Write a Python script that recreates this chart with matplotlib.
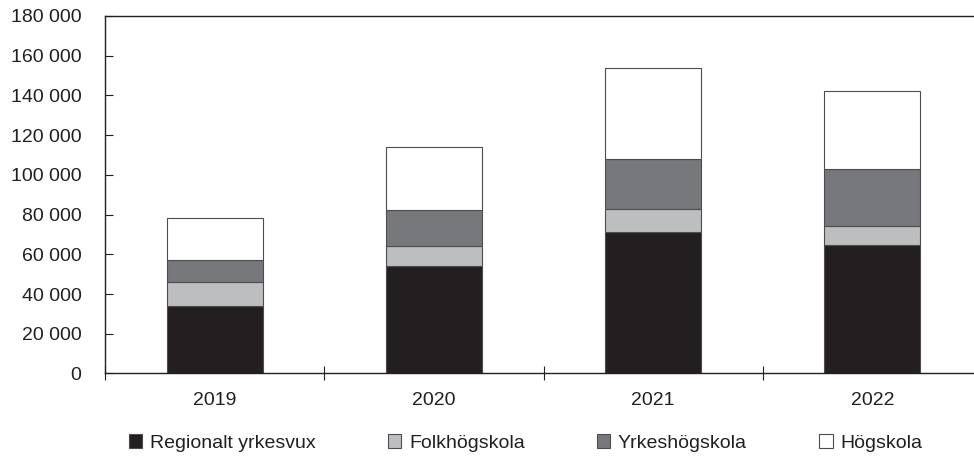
import numpy as np
import matplotlib
matplotlib.use("Agg")
import matplotlib.pyplot as plt
from matplotlib.ticker import FuncFormatter, FixedLocator

# Données (antal personer)
years = ["2019", "2020", "2021", "2022"]
regionalt_yrkesvux = [34200, 54300, 71200, 64500]
folkhogskola = [11700, 9700, 11800, 9900]
yrkeshogskola = [11100, 18500, 25200, 28800]
hogskola = [21300, 31600, 45500, 38900]

labels = ["Regionalt yrkesvux", "Folkhögskola", "Yrkeshögskola", "Högskola"]
colors = ["#231f20", "#bcbec0", "#77787b", "#ffffff"]

plt.rcParams["font.family"] = ["Liberation Sans", "DejaVu Sans"]
plt.rcParams["font.size"] = 14

fig = plt.figure(figsize=(9.74, 4.62), dpi=100)
ax = fig.add_axes([0.1080, 0.1916, 0.9002, 0.7738])

x = np.arange(len(years))
series = [regionalt_yrkesvux, folkhogskola, yrkeshogskola, hogskola]
bottom = np.zeros(len(years))
for vals, lab, col in zip(series, labels, colors):
    ax.bar(x, vals, width=0.438, bottom=bottom, color=col, edgecolor="#4d4d4f",
           linewidth=0.8, label=lab, zorder=2)
    bottom += np.array(vals)

ax.set_xlim(-0.5, 3.5)
ax.set_ylim(0, 180000)
ax.set_yticks(np.arange(0, 180001, 20000))
ax.yaxis.set_major_formatter(FuncFormatter(lambda v, p: f"{int(v):,}".replace(",", " ")))
ax.tick_params(axis="y", direction="in", length=6, width=0.8, pad=17, colors="#231f20",
               labelcolor="#231f20")

# etiketter i mitten, streck mellan kategorierna
ax.xaxis.set_major_locator(FixedLocator([-0.5, 0.5, 1.5, 2.5]))
ax.xaxis.set_major_formatter(FuncFormatter(lambda v, p: ""))
ax.xaxis.set_minor_locator(FixedLocator(x))
ax.set_xticklabels(years, minor=True)
ax.tick_params(axis="x", which="major", direction="inout", length=10, width=0.8, colors="#231f20")
ax.tick_params(axis="x", which="minor", length=0, pad=13, labelcolor="#231f20")

for s in ["left", "bottom", "top", "right"]:
    ax.spines[s].set_color("#231f20")
    ax.spines[s].set_linewidth(1.0)

fig.legend(loc="center", bbox_to_anchor=(0.5395, 0.041), ncol=4, frameon=False,
           handlelength=0.7, handleheight=0.7, handletextpad=0.4, columnspacing=3.7,
           fontsize=14, labelcolor="#231f20")

fig.savefig("out.png", dpi=100)
